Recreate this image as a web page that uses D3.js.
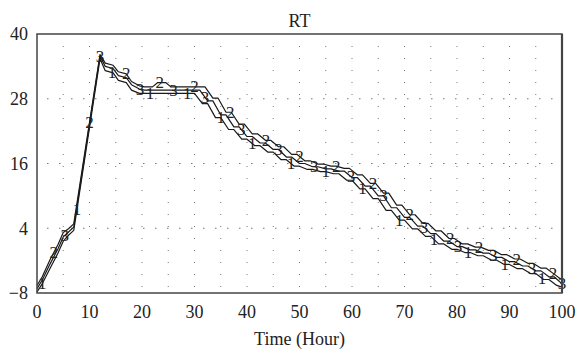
<!DOCTYPE html>
<html>
<head>
<meta charset="utf-8">
<script src="https://cdn.jsdelivr.net/npm/d3@7"></script>
<style>
  body { margin: 0; background: #fff; }
  svg text { font-family: "Liberation Serif", "DejaVu Serif", serif; fill: #222; }
</style>
</head>
<body>
<div id="chart"></div>
<script>
// series values: [time (hour), value]
const series1 = [[0,-7.8],[1,-6.3],[2.5,-3.4],[4,-0.6],[5,1.6],[6,2.7],[7,3.6],[12,35.4],[13,33.2],[14.5,32.8],[15.5,31.4],[17,31.0],[18,29.6],[19.5,29.0],[20.5,29.0],
  [29,29.0],[30,29.0],[31.5,27.1],[32.5,27.1],[34,24.5],[35,24.5],[36.5,22.3],[37.5,22.3],[39,20.5],[40,20.5],[41.5,19.3],[42.5,19.3],[44,18.1],[45,18.1],
  [46.5,16.7],[47.5,16.7],[49,15.5],[50,15.5],[51.5,14.9],[52.5,14.9],[54,14.5],[55,14.5],[56.5,14.1],[57.5,14.1],[59,12.9],[60,12.9],[61.5,11.3],[62.5,11.3],
  [64,9.5],[65,9.5],[66.5,7.3],[67.5,7.3],[69,5.5],[70,5.5],[71.5,3.9],[72.5,3.9],[74,2.5],[75,2.5],[76.5,1.1],[77.5,1.1],[79,0.1],[80,0.1],[81.5,-0.5],[82.5,-0.5],
  [84,-1.1],[85,-1.1],[86.5,-1.9],[87.5,-1.9],[89,-2.7],[90,-2.7],[91.5,-3.5],[92.5,-3.5],[94,-4.4],[95,-4.4],[96.5,-5.5],[97.5,-5.5],[99,-6.6],[100,-6.9]];

const series2 = [[0,-6.6],[1,-5.0],[2.5,-1.8],[4,1.0],[5,3.2],[6,3.9],[7,4.8],[12,36.2],[13,34.6],[14.5,34.2],[15.5,33.0],[17,32.6],[18,31.2],[19.5,30.4],[20.5,30.2],
  [22,30.2],[23,31.0],[24.5,31.0],[25.5,30.2],[31,30.2],[32,30.2],[33.5,28.1],[34.5,28.1],[36,25.5],[37,25.5],[38.5,23.3],[39.5,23.3],[41,21.5],[42,21.5],
  [43.5,20.3],[44.5,20.3],[46,19.1],[47,19.1],[48.5,17.7],[49.5,17.7],[51,16.5],[52,16.5],[53.5,15.9],[54.5,15.9],[56,15.5],[57,15.5],[58.5,15.1],[59.5,15.1],
  [61,13.9],[62,13.9],[63.5,12.3],[64.5,12.3],[66,10.5],[67,10.5],[68.5,8.3],[69.5,8.3],[71,6.5],[72,6.5],[73.5,4.9],[74.5,4.9],[76,3.5],[77,3.5],[78.5,2.1],[79.5,2.1],
  [81,1.1],[82,1.1],[83.5,0.5],[84.5,0.5],[86,-0.1],[87,-0.1],[88.5,-0.9],[89.5,-0.9],[91,-1.7],[92,-1.7],[93.5,-2.5],[94.5,-2.5],[96,-3.4],[97,-3.4],[98.5,-4.5],[100,-5.6]];

const series3 = [[0,-7.2],[1,-5.6],[2.5,-2.6],[4,0.2],[5,2.4],[6,3.3],[7,4.2],[12,35.9],[13,34.0],[14.5,33.6],[15.5,32.3],[17,31.9],[18,30.6],[19.5,29.8],[20.5,29.6],
  [30,29.6],[31,29.6],[32.5,27.6],[33.5,27.6],[35,25.0],[36,25.0],[37.5,22.8],[38.5,22.8],[40,21.0],[41,21.0],[42.5,19.8],[43.5,19.8],[45,18.6],[46,18.6],
  [47.5,17.2],[48.5,17.2],[50,16.0],[51,16.0],[52.5,15.4],[53.5,15.4],[55,15.0],[56,15.0],[57.5,14.6],[58.5,14.6],[60,13.4],[61,13.4],[62.5,11.8],[63.5,11.8],
  [65,10.0],[66,10.0],[67.5,7.8],[68.5,7.8],[70,6.0],[71,6.0],[72.5,4.4],[73.5,4.4],[75,3.0],[76,3.0],[77.5,1.6],[78.5,1.6],[80,0.6],[81,0.6],[82.5,0.0],[83.5,0.0],
  [85,-0.6],[86,-0.6],[87.5,-1.4],[88.5,-1.4],[90,-2.2],[91,-2.2],[92.5,-3.0],[93.5,-3.0],[95,-3.9],[96,-3.9],[97.5,-5.0],[98.5,-5.0],[100,-6.3]];

// times (hour) where the number markers sit on each line
const markers1 = [1, 7.6, 14.3, 21.5, 28.6, 35, 41, 48.4, 55, 62, 69, 75.6, 82.1, 89.1, 96.2];
const markers2 = [3.2, 10, 17, 23.4, 30, 36.8, 43.6, 50, 57, 64, 71, 78.7, 84.2, 91.4, 98.3];
const markers3 = [5.3, 12, 19.6, 26, 32, 38.9, 46, 52.8, 59.8, 66, 73.7, 80.2, 86.9, 94.3, 100];

const xTicks = [0, 10, 20, 30, 40, 50, 60, 70, 80, 90, 100];
const yTicks = [-8, 4, 16, 28, 40];
const xGrid = [5, 10, 15, 20, 25, 30, 35, 40, 45, 50, 55, 60, 65, 70, 75, 80, 85, 90, 95];
const yGrid = [4, 16, 28];

const chartTitle = "RT";
const xLabel = "Time (Hour)";

const width = 579, height = 356;
const margin = {top: 34, right: 17, bottom: 63, left: 37};

const svg = d3.select("#chart").append("svg")
  .attr("width", width)
  .attr("height", height);

const x = d3.scaleLinear().domain([0, 100]).range([margin.left, width - margin.right]);
const y = d3.scaleLinear().domain([-8, 40]).range([height - margin.bottom, margin.top]);

// dotted grid
svg.append("g").selectAll("line")
  .data(xGrid)
  .enter().append("line")
  .attr("x1", d => x(d)).attr("x2", d => x(d))
  .attr("y1", y(40) + 1).attr("y2", y(-8))
  .attr("stroke", "#777")
  .attr("stroke-width", 1)
  .attr("stroke-dasharray", "1,11")
  .attr("stroke-dashoffset", -11);

svg.append("g").selectAll("line")
  .data(yGrid)
  .enter().append("line")
  .attr("x1", x(0)).attr("x2", x(100))
  .attr("y1", d => y(d)).attr("y2", d => y(d))
  .attr("stroke", "#777")
  .attr("stroke-width", 1)
  .attr("stroke-dasharray", "1.5,10.5")
  .attr("stroke-dashoffset", -10);

// lines
const line = d3.line().x(d => x(d[0])).y(d => y(d[1]));
const allSeries = [series1, series2, series3];

svg.append("g").selectAll("path")
  .data(allSeries)
  .enter().append("path")
  .attr("d", line)
  .attr("fill", "none")
  .attr("stroke", "#1a1a1a")
  .attr("stroke-width", 1.2)
  .attr("stroke-linejoin", "round");

// number markers on the lines
const markerSets = [markers1, markers2, markers3];
markerSets.forEach((times, i) => {
  const s = allSeries[i];
  const interp = d3.scaleLinear().domain(s.map(d => d[0])).range(s.map(d => d[1]));
  svg.append("g").selectAll("text")
    .data(times)
    .enter().append("text")
    .attr("x", d => x(d))
    .attr("y", d => y(interp(d)))
    .attr("text-anchor", "middle")
    .attr("dominant-baseline", "central")
    .style("font-size", "17px")
    .text(i + 1);
});

// frame
svg.append("rect")
  .attr("x", x(0)).attr("y", y(40))
  .attr("width", x(100) - x(0)).attr("height", y(-8) - y(40))
  .attr("fill", "none")
  .attr("stroke", "#444")
  .attr("stroke-width", 1.5);
svg.append("line")
  .attr("x1", x(100)).attr("x2", x(100))
  .attr("y1", y(40)).attr("y2", y(-8))
  .attr("stroke", "#444")
  .attr("stroke-width", 2.2);

// tick labels
svg.append("g").selectAll("text")
  .data(xTicks)
  .enter().append("text")
  .attr("x", d => x(d))
  .attr("y", y(-8) + 25)
  .attr("text-anchor", "middle")
  .style("font-size", "18px")
  .text(d => d);

svg.append("g").selectAll("text")
  .data(yTicks)
  .enter().append("text")
  .attr("x", x(0) - 9)
  .attr("y", d => y(d))
  .attr("dy", "0.35em")
  .attr("text-anchor", "end")
  .style("font-size", "18px")
  .text(d => d3.format("")(d).replace("-", "\u2212"));

// title and axis label
svg.append("text")
  .attr("x", (x(0) + x(100)) / 2)
  .attr("y", 27)
  .attr("text-anchor", "middle")
  .style("font-size", "18px")
  .text(chartTitle);

svg.append("text")
  .attr("x", (x(0) + x(100)) / 2)
  .attr("y", 345)
  .attr("text-anchor", "middle")
  .style("font-size", "18px")
  .text(xLabel);
</script>
</body>
</html>
